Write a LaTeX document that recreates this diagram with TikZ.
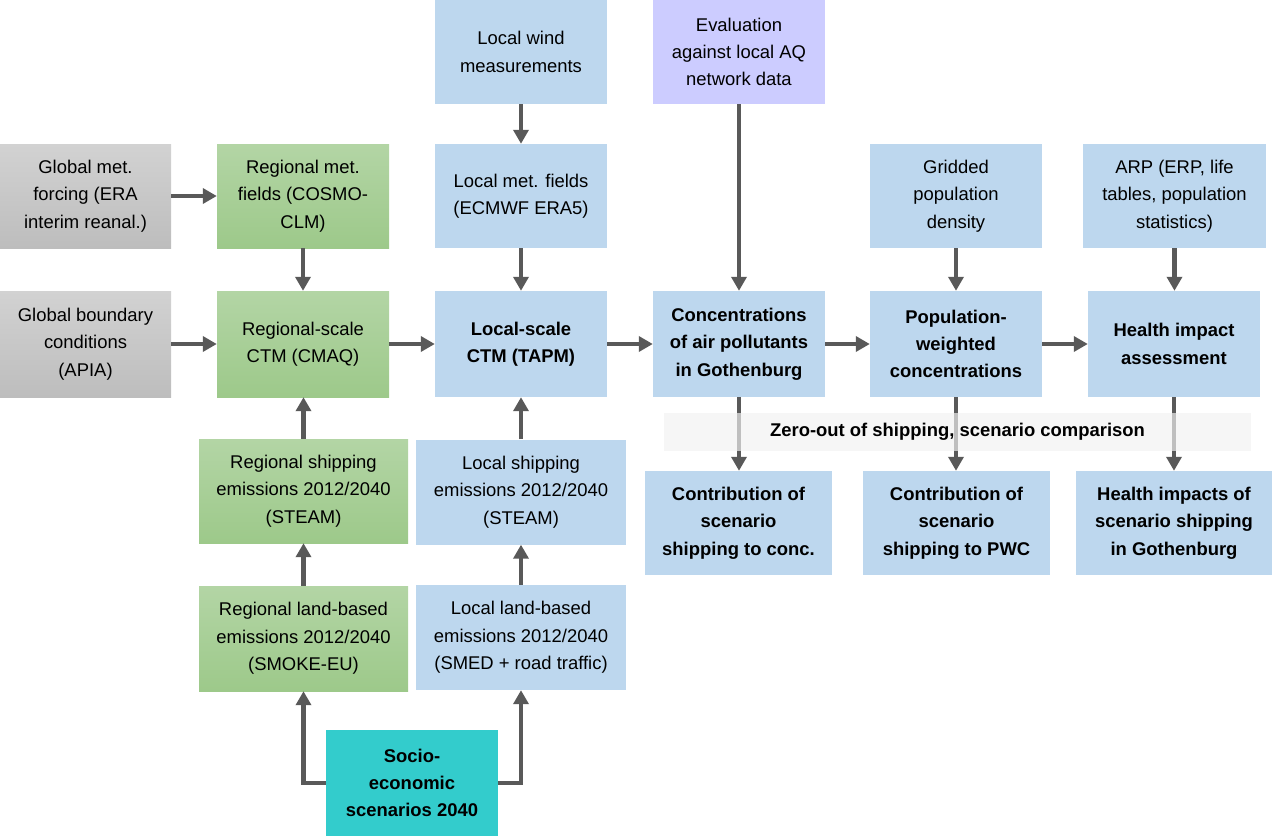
\documentclass[tikz,border=0pt]{standalone}
\usepackage{fontspec}
\setmainfont{Liberation Sans}
\usetikzlibrary{arrows.meta}
\definecolor{boxblue}{HTML}{BDD7EE}
\definecolor{greentop}{HTML}{B3D5A5}
\definecolor{greenbot}{HTML}{9DC98A}
\definecolor{graytop}{HTML}{D2D2D2}
\definecolor{graybot}{HTML}{BDBDBD}
\definecolor{lavender}{HTML}{CCCCFF}
\definecolor{teal}{HTML}{33CCCC}
\definecolor{arrgray}{HTML}{595959}
\definecolor{bandgray}{HTML}{F2F2F2}
\tikzset{
  basebox/.style={rectangle, inner sep=0pt, align=center, font=\fontsize{18.5}{27.5}\selectfont},
  bluebox/.style={basebox, fill=boxblue},
  greenbox/.style={basebox, top color=greentop, bottom color=greenbot},
  graybox/.style={basebox, top color=graytop, bottom color=graybot},
  lavbox/.style={basebox, fill=lavender},
  tealbox/.style={basebox, fill=teal},
  bfont/.style={font=\fontsize{18.5}{27.5}\selectfont\bfseries},
  sz/.style 2 args={minimum width=#1bp, minimum height=#2bp},
  arr/.style={draw=arrgray, line width=4.5bp, -{Triangle[length=14bp,width=15bp]}},
}
\begin{document}
\begin{tikzpicture}[x=1bp,y=-1bp]
\useasboundingbox (0,0) rectangle (1273,836);
% top rows
\node[graybox, sz={171}{104}] (gmf) at (85.5,196) {Global met.\\forcing (ERA\\interim reanal.)};
\node[greenbox, sz={172}{104}] (rmf) at (303,196) {Regional met.\\fields (COSMO-\\CLM)};
\node[bluebox, sz={172}{104}] (lwm) at (521,52) {Local wind\\measurements};
\node[bluebox, sz={172}{104}] (lmf) at (521,196) {Local met. fields\\(ECMWF ERA5)};
\node[lavbox, sz={172}{104}] (eval) at (739,52) {Evaluation\\against local AQ\\network data};
\node[bluebox, sz={172}{104}] (gpd) at (956,196) {Gridded\\population\\density};
\node[bluebox, sz={183}{104}] (arp) at (1174.5,196) {ARP (ERP, life\\tables, population\\statistics)};
% main row
\node[graybox, sz={171}{106}] (gbc) at (85.5,344) {Global boundary\\conditions\\(APIA)};
\node[greenbox, sz={172}{106}] (rctm) at (303,344) {Regional-scale\\CTM (CMAQ)};
\node[bluebox, bfont, sz={172}{106}] (lctm) at (521,344) {Local-scale\\CTM (TAPM)};
\node[bluebox, bfont, sz={172}{106}] (conc) at (739,344) {Concentrations\\of air pollutants\\in Gothenburg};
\node[bluebox, bfont, sz={172}{106}] (pwc) at (956,344) {Population-\\weighted\\concentrations};
\node[bluebox, bfont, sz={172}{106}] (hia) at (1174,344) {Health impact\\assessment};
% results
\node[bluebox, bfont, sz={187}{104}] (cconc) at (738.5,523) {Contribution of\\scenario\\shipping to conc.};
\node[bluebox, bfont, sz={187}{104}] (cpwc) at (956.5,523) {Contribution of\\scenario\\shipping to PWC};
\node[bluebox, bfont, sz={196}{104}] (hi) at (1174,523) {Health impacts of\\scenario shipping\\in Gothenburg};
% emissions
\node[greenbox, sz={209}{104}] (rship) at (303.5,491) {Regional shipping\\emissions 2012/2040\\(STEAM)};
\node[bluebox, sz={210}{105}] (lship) at (521,492) {Local shipping\\emissions 2012/2040\\(STEAM)};
\node[greenbox, sz={209}{105}] (rland) at (303.5,638.5) {Regional land-based\\emissions 2012/2040\\(SMOKE-EU)};
\node[bluebox, sz={210}{105}] (lland) at (521,637.5) {Local land-based\\emissions 2012/2040\\(SMED + road traffic)};
\node[tealbox, bfont, sz={172}{106}] (socio) at (412,783) {Socio-\\economic\\scenarios 2040};
% arrows
\draw[arr] (gmf) -- (rmf);
\draw[arr] (rmf) -- (rctm);
\draw[arr] (lwm) -- (lmf);
\draw[arr] (lmf) -- (lctm);
\draw[arr] (eval) -- (conc);
\draw[arr] (gpd) -- (pwc);
\draw[arr] (arp.south) -- (arp.south |- hia.north);
\draw[arr] (gbc) -- (rctm);
\draw[arr] (rctm) -- (lctm);
\draw[arr] (lctm) -- (conc);
\draw[arr] (conc) -- (pwc);
\draw[arr] (pwc) -- (hia);
\draw[arr] (rship.north) -- (rship.north |- rctm.south);
\draw[arr] (lship) -- (lctm);
\draw[arr] (rland) -- (rship);
\draw[arr] (lland) -- (lship);
\draw[arr] (socio.west) -| (rland.south);
\draw[arr] (socio.east) -| (lland.south);
\draw[arr] (conc.south) -- (conc.south |- cconc.north);
\draw[arr] (pwc.south) -- (pwc.south |- cpwc.north);
\draw[arr] (hia.south) -- (hia.south |- hi.north);
% band
\node[basebox, bfont, fill=bandgray, fill opacity=0.67, text opacity=1, sz={587}{38}] (band) at (957.5,432) {Zero-out of shipping, scenario comparison};
\end{tikzpicture}
\end{document}
